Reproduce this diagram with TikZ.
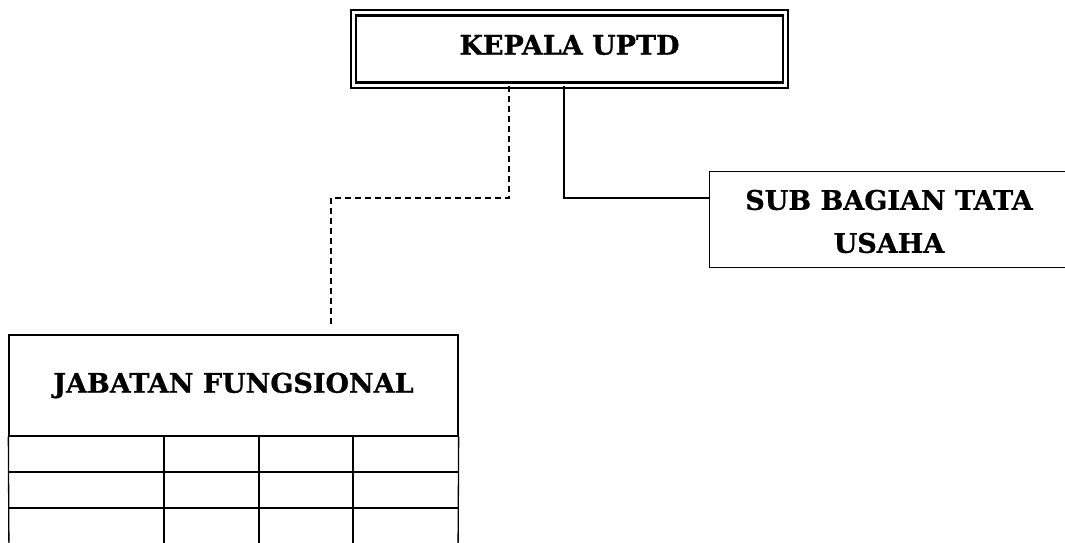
\documentclass[tikz,border=0pt]{standalone}
\usepackage{fontspec}
\setmainfont{DejaVu Serif}[BoldFeatures={FakeBold=0.8}]
\begin{document}
\begin{tikzpicture}[x=1pt,y=-1pt,
  lbl/.style={font=\fontsize{27}{43}\selectfont\bfseries, align=center, inner sep=0pt},
  conn/.style={line width=1.5pt},
  dconn/.style={line width=1.5pt, dash pattern=on 6pt off 4pt},
  thinline/.style={line width=1.3pt},
  dbox/.style={draw, double, double distance=3pt, line width=2.2pt, inner sep=0pt}]
\useasboundingbox (0,0) rectangle (1065,543);
\fill[white] (0,0) rectangle (1065,543);
% head box
\node[dbox, minimum width=432pt, minimum height=72pt] (kep) at (569.5,49) {};
\node[lbl] (kepT) at (569.5,45) {KEPALA UPTD};
% sub bagian box (open to the right, runs off the page)
\node[minimum width=365pt, minimum height=95pt, inner sep=0pt] (sub) at (892.5,219.5) {};
\draw[thinline] (sub.north east) -- (sub.north west) -- (sub.south west) -- (sub.south east);
\node[lbl] (subT) at (889,221.5) {SUB BAGIAN TATA\\USAHA};
% jabatan fungsional table
\node[lbl, draw, thinline, minimum width=449pt, minimum height=101pt] (jab) at (233.5,385.5) {JABATAN FUNGSIONAL};
\draw[thinline] (jab.south west) -- (9,560);
\draw[thinline] (jab.south east) -- (458,560);
\draw[thinline] (9,472) -- (458,472);
\draw[thinline] (9,508) -- (458,508);
\foreach \cx in {164,259,353} \draw[thinline] (\cx,436) -- (\cx,560);
% connectors
\coordinate (dj) at (509,198);
\coordinate (dend) at (331,328);
\draw[dconn] (kep.south -| dj) -- (dj) -| (dend);
\coordinate (sj) at (564,198);
\draw[conn] (kep.south -| sj) -- (sj) -- (sub.west |- sj);
\end{tikzpicture}
\end{document}
